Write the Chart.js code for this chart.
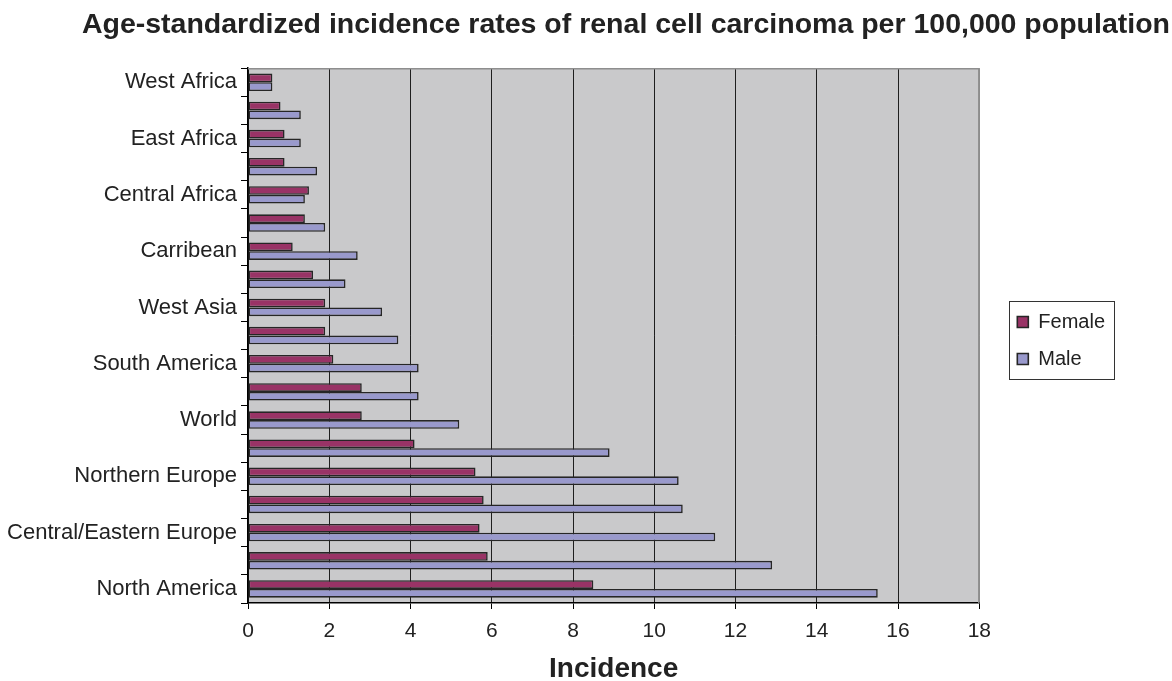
<!DOCTYPE html>
<html>
<head>
<meta charset="utf-8">
<script src="https://cdn.jsdelivr.net/npm/chart.js@4.4.1/dist/chart.umd.min.js"></script>
<style>
  html, body { margin: 0; padding: 0; background: #fff; }
  #wrap { width: 1172px; height: 681px; }
</style>
</head>
<body>
<div id="wrap"><canvas id="rccChart"></canvas></div>
<script>
// Regions from top to bottom; only every other one is labelled in the source chart
const regions = [
    'West Africa', '', 'East Africa', '', 'Central Africa', '', 'Carribean', '',
    'West Asia', '', 'South America', '', 'World', '', 'Northern Europe', '',
    'Central/Eastern Europe', '', 'North America'
];
const female = [0.6, 0.8, 0.9, 0.9, 1.5, 1.4, 1.1, 1.6, 1.9, 1.9, 2.1, 2.8, 2.8, 4.1, 5.6, 5.8, 5.7, 5.9, 8.5];
const male = [0.6, 1.3, 1.3, 1.7, 1.4, 1.9, 2.7, 2.4, 3.3, 3.7, 4.2, 4.2, 5.2, 8.9, 10.6, 10.7, 11.5, 12.9, 15.5];
const xMin = 0;
const xMax = 18;
const xStep = 2;

const FONT = '"Liberation Sans", Arial, Helvetica, sans-serif';
const TEXT = '#222';

// grey plot area with a light frame on top and right
const plotArea = {
    id: 'plotArea',
    beforeDraw(chart) {
        const { ctx, chartArea: a } = chart;
        ctx.save();
        ctx.fillStyle = '#c9c9cb';
        ctx.fillRect(a.left, a.top, a.right - a.left, a.bottom - a.top);
        ctx.restore();
    },
    afterDatasetsDraw(chart) {
        const { ctx, chartArea: a } = chart;
        ctx.save();
        ctx.strokeStyle = '#8e8e8e';
        ctx.lineWidth = 1.5;
        ctx.beginPath();
        ctx.moveTo(a.left, a.top + 0.5);
        ctx.lineTo(a.right - 0.5, a.top + 0.5);
        ctx.lineTo(a.right - 0.5, a.bottom);
        ctx.stroke();
        ctx.restore();
    }
};

// frame around the legend items
const legendFrame = {
    id: 'legendFrame',
    afterDraw(chart) {
        const boxes = chart.legend && chart.legend.legendHitBoxes;
        if (!boxes || !boxes.length) return;
        const left = Math.min(...boxes.map(b => b.left)) - 8;
        const right = Math.max(...boxes.map(b => b.left + b.width)) + 9;
        const top = Math.min(...boxes.map(b => b.top)) - 11;
        const bottom = Math.max(...boxes.map(b => b.top + b.height)) + 10;
        const ctx = chart.ctx;
        ctx.save();
        ctx.strokeStyle = '#333';
        ctx.lineWidth = 1;
        ctx.strokeRect(Math.round(left) + 0.5, Math.round(top) + 0.5, Math.round(right - left), Math.round(bottom - top));
        ctx.restore();
    }
};

const ctx = document.getElementById('rccChart').getContext('2d');
new Chart(ctx, {
    type: 'bar',
    data: {
        labels: regions,
        datasets: [{
            label: 'Female',
            data: female,
            backgroundColor: '#993366',
            borderColor: '#262626',
            borderWidth: 1.6,
            borderSkipped: false,
            categoryPercentage: 0.62,
            barPercentage: 1.0
        }, {
            label: 'Male',
            data: male,
            backgroundColor: '#9999cc',
            borderColor: '#262626',
            borderWidth: 1.6,
            borderSkipped: false,
            categoryPercentage: 0.62,
            barPercentage: 1.0
        }]
    },
    options: {
        indexAxis: 'y',
        responsive: true,
        maintainAspectRatio: false,
        animation: false,
        layout: { padding: { right: 2 } },
        scales: {
            x: {
                min: xMin,
                max: xMax,
                ticks: { stepSize: xStep, color: TEXT, font: { family: FONT, size: 21 }, padding: 10 },
                grid: {
                    color: c => (c.tick && c.tick.value === xMax) ? '#8e8e8e' : '#1e1e1e',
                    lineWidth: 1,
                    tickColor: '#000',
                    tickLength: 6
                },
                border: { color: '#000', width: 1.5 },
                title: {
                    display: true,
                    text: 'Incidence',
                    color: TEXT,
                    font: { family: FONT, size: 28, weight: 'bold', lineHeight: 0.8 },
                    padding: { top: 0, bottom: 1 }
                },
                afterFit: s => { s.height = 78; }
            },
            y: {
                type: 'category',
                grid: { drawOnChartArea: false, offset: true, color: '#000', tickLength: 7 },
                border: { color: '#000', width: 1.5 },
                ticks: {
                    autoSkip: false,
                    color: TEXT,
                    font: { family: FONT, size: 22 },
                    padding: 4,
                    callback: (v, i) => regions[i]
                },
                afterFit: s => { s.width = 248; }
            },
            // empty right-hand boxes that only hold space around the legend
            gapRight: {
                type: 'linear', position: 'right', weight: 0,
                grid: { display: false }, border: { display: false }, ticks: { display: false },
                afterFit: s => { s.width = 21; }
            },
            edgeRight: {
                type: 'linear', position: 'right', weight: 2000,
                grid: { display: false }, border: { display: false }, ticks: { display: false },
                afterFit: s => { s.width = 55; }
            }
        },
        plugins: {
            title: {
                display: true,
                text: 'Age-standardized incidence rates of renal cell carcinoma per 100,000 population',
                align: 'end',
                color: TEXT,
                font: { family: FONT, size: 28.5, weight: 'bold' },
                padding: { top: 8, bottom: 26 }
            },
            legend: {
                position: 'right',
                maxHeight: 525,
                labels: {
                    color: TEXT,
                    font: { family: FONT, size: 20 },
                    boxWidth: 11,
                    boxHeight: 11,
                    padding: 17
                }
            },
            tooltip: { enabled: false }
        }
    },
    plugins: [plotArea, legendFrame]
});
</script>
</body>
</html>
